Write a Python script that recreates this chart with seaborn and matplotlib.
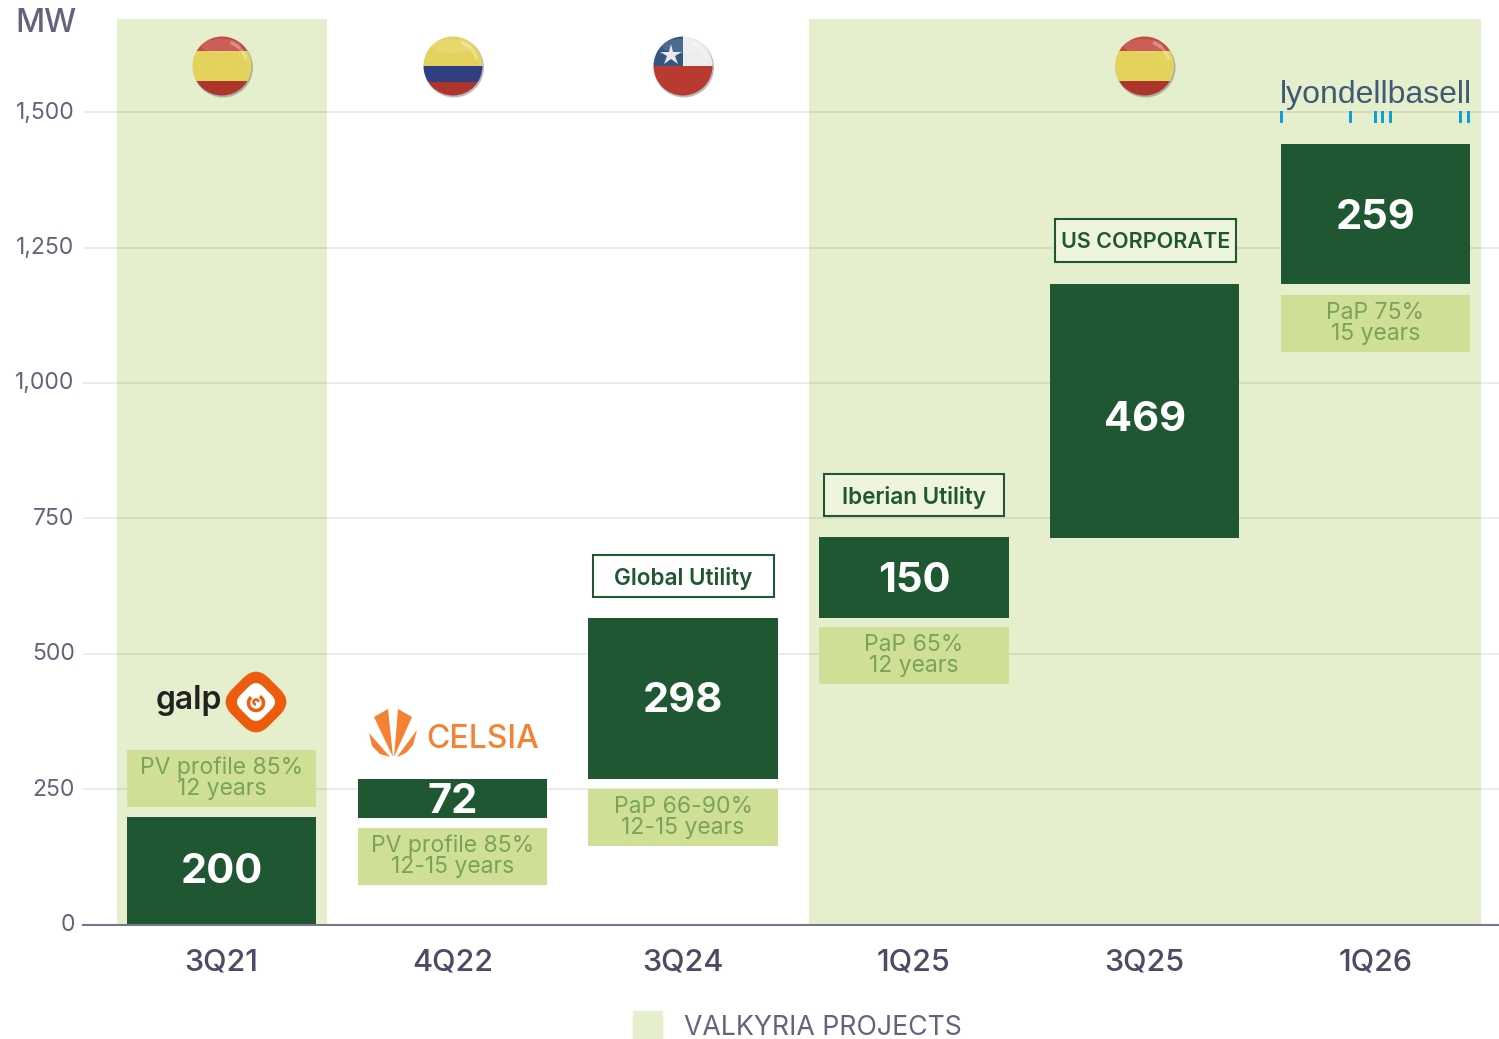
import matplotlib
matplotlib.use("Agg")
import matplotlib.pyplot as plt
from matplotlib.patches import Arc, Circle, Ellipse, FancyBboxPatch, Patch, Polygon, Rectangle
from matplotlib.transforms import Affine2D, ScaledTranslation
import seaborn as sns

# values
quarters = ["3Q21", "4Q22", "3Q24", "1Q25", "3Q25", "1Q26"]
bar_labels = ["200", "72", "298", "150", "469", "259"]
bar_bottoms = [0, 197, 269, 566, 714, 1182]
bar_heights = [198, 72, 297, 149, 468, 259]
note_bottoms = [217, 73, 145, 444, 0, 1057]
note_heights = [105, 105, 105, 105, 0, 105]
note_labels = ["PV profile 85%\n12 years", "PV profile 85%\n12-15 years", "PaP 66-90%\n12-15 years",
               "PaP 65%\n12 years", "", "PaP 75%\n15 years"]
y_ticks = [0, 250, 500, 750, 1000, 1250, 1500]
y_tick_labels = ["0", "250", "500", "750", "1,000", "1,250", "1,500"]
buyers = ["Global Utility", "Iberian Utility", "US CORPORATE"]
legend_label = "VALKYRIA PROJECTS"

DARK = "#1F5733"
NOTE = "#CFDF96"
NOTE_TEXT = "#7AA35A"
BAND = "#E5EFCD"
GREY = "#63637E"
LABEL = "#4B4B66"
FONT = ["Inter", "DejaVu Sans"]

sns.set_theme(style="white")
plt.rcParams["font.family"] = FONT

fig = plt.figure(figsize=(14.99, 10.39), dpi=100)
W, H = 1499, 1039
ax = fig.add_axes([83 / W, (H - 924.5) / H, (W - 83) / W, (924.5 - 19) / H])

ax.axvspan(-0.453, 0.457, color=BAND, lw=0, zorder=0.1)
ax.axvspan(2.545, 5.456, color=BAND, lw=0, zorder=0.1)

sns.barplot(x=quarters, y=note_heights, bottom=note_bottoms, color=NOTE, saturation=1,
            width=0.82, ax=ax, zorder=2, linewidth=0, edgecolor="none")
sns.barplot(x=quarters, y=bar_heights, bottom=bar_bottoms, color=DARK, saturation=1,
            width=0.82, ax=ax, zorder=3, linewidth=0, edgecolor="none")

ax.set_xlim(-0.6, 5.535)
ax.set_ylim(0, 1672)
ax.set_yticks(y_ticks, y_tick_labels)
ax.set_axisbelow(True)
ax.grid(axis="y", color="black", alpha=0.09, lw=1.2)
ax.tick_params(axis="y", length=0, pad=6, labelsize=16.5, labelcolor=GREY)
ax.tick_params(axis="x", length=0, pad=17, labelsize=22, labelcolor=LABEL)
up = ScaledTranslation(0, 2 / 100, fig.dpi_scale_trans)
for t in ax.get_yticklabels():
    t.set_transform(t.get_transform() + up)
for t in ax.get_xticklabels():
    t.set_fontweight("medium")
for s in ["top", "left", "right"]:
    ax.spines[s].set_visible(False)
ax.spines["bottom"].set_color("#77778A")
ax.spines["bottom"].set_linewidth(1.5)
ax.spines["bottom"].set_zorder(4)
ax.set_xlabel("")
ax.set_ylabel("")
ax.patch.set_alpha(0)

# the labels are not all centred in their bars
nudge = [3, 0, 1, 1, -5, 0]
for i, txt in enumerate(bar_labels):
    ax.annotate(txt, (i, bar_bottoms[i] + bar_heights[i] / 2), xytext=(0, nudge[i]),
                textcoords="offset pixels", ha="center", va="center_baseline",
                color="white", fontsize=30, fontweight="bold", zorder=5)
for i, txt in enumerate(note_labels):
    ax.text(i, note_bottoms[i] + note_heights[i] / 2, txt, ha="center", va="center",
            color=NOTE_TEXT, fontsize=16.5, linespacing=0.95, zorder=5)

ax.legend(handles=[Patch(color=BAND, label=legend_label)], loc="center", frameon=False,
          bbox_to_anchor=(797.5 / W, (H - 1026.5) / H), bbox_transform=fig.transFigure,
          fontsize=19.2, handlelength=1.09, handleheight=1.4, handletextpad=0.85,
          labelcolor=GREY, borderpad=0, borderaxespad=0)

fig.text(15 / W, (H - 23) / H, "MW", ha="left", va="center", fontsize=23,
         fontweight="medium", color=GREY)

# overlay in pixel coordinates for the flags, logos and buyer tags
deco = fig.add_axes([0, 0, 1, 1])
deco.set_xlim(0, W)
deco.set_ylim(H, 0)
deco.axis("off")
deco.patch.set_alpha(0)


def flag(cx, stripes):
    deco.add_patch(Circle((cx + 1, 67.5), 30, color="#555566", alpha=0.4, lw=0))
    clip = Circle((cx, 66), 29.5, transform=deco.transData)
    for x0, y0, w, h, col in stripes:
        r = Rectangle((cx + x0, 66 + y0), w, h, color=col, lw=0)
        deco.add_patch(r)
        r.set_clip_path(clip)
    top = Ellipse((cx - 1, 46), 40, 14, color="white", alpha=0.12, lw=0)
    deco.add_patch(top)
    top.set_clip_path(clip)
    shine = Arc((cx, 66), 50, 50, theta1=-70, theta2=-15, color="white", alpha=0.3, lw=2.5)
    deco.add_patch(shine)


spain = [(-30, -30, 60, 15, "#C44A40"), (-30, -15, 60, 30, "#E3D25C"), (-30, 15, 60, 15, "#AE352B")]
colombia = [(-30, -30, 60, 30, "#E3D25C"), (-30, 0, 60, 16, "#2F3F82"), (-30, 16, 60, 14, "#AE352B")]
chile = [(-30, -30, 30, 30, "#34577F"), (0, -30, 30, 30, "#EDEDED"), (-30, 0, 60, 30, "#B93A30")]
flag(222, spain)
flag(453, colombia)
flag(683, chile)
flag(1144.5, spain)
deco.plot([671], [55], marker="*", ms=16, color="#E8E8EE", mew=0, ls="none")

# buyer tags
tag_boxes = [(593, 555, 181, 42, "white"), (824, 474, 180, 42, "#EEF4DE"), (1055, 219, 181, 43, "#EEF4DE")]
tag_sizes = [16.2, 16.2, 15.5]
for (x0, y0, w, h, fc), txt, fs in zip(tag_boxes, buyers, tag_sizes):
    deco.add_patch(Rectangle((x0, y0), w, h, fc=fc, ec=DARK, lw=1.5))
    deco.text(x0 + w / 2, y0 + h / 2, txt, ha="center", va="center_baseline", color=DARK,
              fontsize=fs, fontweight="semibold")

# galp logo
deco.text(189, 701, "galp", ha="center", va="center", fontsize=23, fontweight="semibold", color="#222222")
rot = Affine2D().rotate_deg_around(256, 702, 45) + deco.transData
deco.add_patch(FancyBboxPatch((230, 676), 52, 52, boxstyle="round,pad=0,rounding_size=18",
                              fc="#EC5C0C", ec="none", transform=rot))
deco.add_patch(FancyBboxPatch((240, 686), 32, 32, boxstyle="round,pad=0,rounding_size=10",
                              fc="white", ec="none", transform=rot))
deco.add_patch(Arc((256, 703), 15, 15, theta1=-60, theta2=230, color="#EC5C0C", lw=2.5))
deco.add_patch(Arc((256, 702), 5, 5, theta1=90, theta2=360, color="#EC5C0C", lw=1.8))

# celsia logo
orange = "#F58233"
blades = [[(374, 717), (388, 709), (393, 757)],
          [(398, 709), (412, 717), (394, 757)],
          [(369, 733), (372, 746), (380, 754), (390, 757)],
          [(417, 730), (413, 745), (406, 753), (397, 757)]]
for pts in blades:
    deco.add_patch(Polygon(pts, closed=True, fc=orange, ec="none"))
deco.text(482.5, 736, "CELSIA", ha="center", va="center_baseline", fontsize=23, fontweight="medium",
          color=orange)

# lyondellbasell logo
deco.text(1376, 92, "lyondellbasell", ha="center", va="center_baseline", fontsize=23,
          family=["Liberation Sans", "DejaVu Sans"], color="#3F5B73")
for x in [1282, 1351, 1376, 1383, 1391, 1461, 1469]:
    deco.add_patch(Rectangle((x - 1.5, 111), 3, 12, fc="#0E9FD8", ec="none"))

fig.savefig("out.png", dpi=100)
